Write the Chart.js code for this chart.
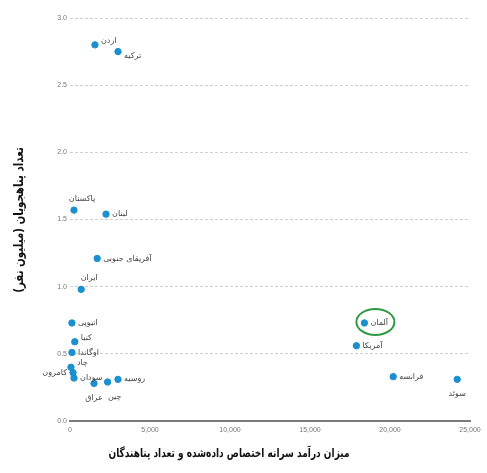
<!DOCTYPE html>
<html lang="fa">
<head>
<meta charset="utf-8">
<script src="https://cdn.jsdelivr.net/npm/chart.js@4.4.1/dist/chart.umd.min.js"></script>
<style>
  html, body { margin: 0; padding: 0; background: #fff; }
  #wrap { width: 487px; height: 473px; position: relative; }
</style>
</head>
<body>
<div id="wrap"><canvas id="chart"></canvas></div>
<script>
// data
const countries = ['اردن', 'ترکیه', 'پاکستان', 'لبنان', 'آفریقای جنوبی', 'ایران', 'اتیوپی', 'کنیا', 'اوگاندا',
    'چاد', 'کامرون', 'سودان', 'عراق', 'چین', 'روسیه', 'آلمان', 'آمریکا', 'فرانسه', 'سوئد'];
const income = [1560, 3000, 250, 2250, 1700, 700, 120, 300, 120, 60, 190, 250, 1500, 2350, 3000, 18400, 17900, 20200, 24200];
const refugees = [2.80, 2.75, 1.57, 1.54, 1.21, 0.98, 0.73, 0.59, 0.51, 0.40, 0.36, 0.32, 0.28, 0.29, 0.31, 0.73, 0.56, 0.33, 0.31];
const xTicks = [0, 5000, 10000, 15000, 20000, 25000];
const yTicks = [0, 0.5, 1.0, 1.5, 2.0, 2.5, 3.0];
const xTitle = 'میزان درآمد سرانه اختصاص داده‌شده و تعداد پناهندگان';
const yTitle = 'تعداد پناهجویان (میلیون نفر)';
const highlighted = 'آلمان';

// where each label sits next to its point
const labelSide = ['rt', 'rb', 't', 'r', 'r', 't', 'r', 'rt', 'r', 'rt', 'l', 'r', 'b', 'br', 'r', 'r', 'r', 'r', 'b'];
const sideOffset = {
    r: [6, 0, 'left'],
    rt: [6, -4, 'left'],
    rb: [6, 4, 'left'],
    l: [-6, 0, 'right'],
    t: [8, -11, 'center'],
    b: [0, 15, 'center'],
    br: [7, 15, 'center']
};

const labelsPlugin = {
    id: 'labelsPlugin',
    afterDatasetsDraw(chart) {
        const ctx = chart.ctx;
        const meta = chart.getDatasetMeta(0);
        ctx.save();
        ctx.font = '8px "DejaVu Sans", sans-serif';
        ctx.fillStyle = '#444';
        ctx.textBaseline = 'middle';
        meta.data.forEach((pt, i) => {
            const o = sideOffset[labelSide[i]];
            ctx.textAlign = o[2];
            ctx.fillText(countries[i], pt.x + o[0], pt.y + o[1]);
        });

        // green ring around Germany
        const g = meta.data[countries.indexOf(highlighted)];
        ctx.strokeStyle = '#2f9a44';
        ctx.lineWidth = 2;
        ctx.beginPath();
        ctx.ellipse(g.x + 11, g.y - 1, 19, 13, 0, 0, Math.PI * 2);
        ctx.stroke();
        ctx.restore();

        // axis titles (the source font is narrow, so squeeze DejaVu a bit)
        ctx.save();
        ctx.fillStyle = '#111';
        ctx.textAlign = 'center';
        ctx.textBaseline = 'middle';
        ctx.font = 'bold 12px "DejaVu Sans", sans-serif';
        ctx.translate(229, 454);
        ctx.scale(0.75, 1);
        ctx.fillText(xTitle, 0, 0);
        ctx.restore();

        ctx.save();
        ctx.fillStyle = '#111';
        ctx.textAlign = 'center';
        ctx.textBaseline = 'middle';
        ctx.font = 'bold 13px "DejaVu Sans", sans-serif';
        ctx.translate(20, 220);
        ctx.rotate(-Math.PI / 2);
        ctx.scale(0.79, 1);
        ctx.fillText(yTitle, 0, 0);
        ctx.restore();
    }
};

new Chart(document.getElementById('chart'), {
    type: 'scatter',
    data: {
        datasets: [{
            data: income.map((v, i) => ({ x: v, y: refugees[i] })),
            backgroundColor: '#1c8fce',
            borderColor: '#1c8fce',
            pointRadius: 3.2,
            pointHoverRadius: 3.2,
            clip: false
        }]
    },
    options: {
        responsive: true,
        maintainAspectRatio: false,
        animation: false,
        layout: { padding: { top: 18, right: 17, left: 0, bottom: 0 } },
        plugins: {
            legend: { display: false },
            tooltip: { enabled: false }
        },
        scales: {
            x: {
                type: 'linear',
                min: 0,
                max: 25000,
                afterBuildTicks: axis => { axis.ticks = xTicks.map(v => ({ value: v })); },
                afterFit: axis => { axis.height = 52; },
                grid: { display: false, drawTicks: false },
                border: { display: true, color: '#7a7a7a', width: 2 },
                ticks: {
                    padding: 5,
                    maxRotation: 0,
                    color: '#777',
                    font: { size: 7, family: 'Arial, sans-serif' },
                    callback: v => v.toLocaleString('en-US')
                }
            },
            y: {
                min: 0,
                max: 3,
                afterBuildTicks: axis => { axis.ticks = yTicks.map(v => ({ value: v })); },
                afterFit: axis => { axis.width = 70; },
                grid: { color: '#cfcfcf', lineWidth: 1, drawTicks: false },
                border: { display: false, dash: [3, 2] },
                ticks: {
                    padding: 3,
                    color: '#777',
                    font: { size: 7, family: 'Arial, sans-serif' },
                    callback: v => v.toFixed(1)
                }
            }
        }
    },
    plugins: [labelsPlugin]
});
</script>
</body>
</html>
